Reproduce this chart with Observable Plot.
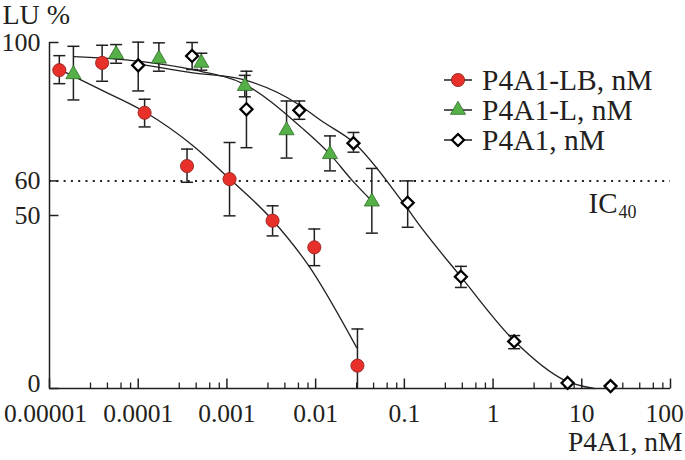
<!DOCTYPE html>
<html><head><meta charset="utf-8">
<script src="https://cdn.jsdelivr.net/npm/d3@7"></script>
<script src="https://cdn.jsdelivr.net/npm/@observablehq/plot@0.6"></script>
<style>
html,body{margin:0;padding:0;background:#fff;}
#wrap{position:relative;width:685px;height:460px;overflow:hidden;font-family:"Liberation Serif","Times New Roman",Times,"Nimbus Roman",serif;color:#231f20;}
#legend{position:absolute;left:444px;top:65px;font-size:29.5px;line-height:30px;}
.row{display:flex;align-items:center;height:30px;white-space:nowrap;}
.row svg{flex:none;margin-right:10px;}
</style></head><body>
<div id="wrap"><div id="chart"></div><div id="legend"></div></div>
<script>
// ---- series names ----
const seriesNames = ["P4A1-LB, nM", "P4A1-L, nM", "P4A1, nM"];

// ---- P4A1-LB (red circles) ----
const lbX  = [1.29e-5, 3.92e-5, 1.18e-4, 3.55e-4, 1.07e-3, 3.27e-3, 9.66e-3, 2.96e-2];
const lbY  = [92.0, 94.1, 79.7, 64.3, 60.5, 48.5, 40.8, 6.6];
const lbLo = [88.1, 88.8, 75.6, 59.6, 49.9, 44.1, 35.5, 0];
const lbHi = [96.2, 99.2, 83.6, 69.2, 71.1, 52.8, 46.1, 17.2];
const lbCurveX = [1.28e-5, 3.82e-5, 1.14e-4, 4.18e-4, 1.07e-3, 3.18e-3, 8.34e-3, 2.9e-2];
const lbCurveY = [92.3, 86.3, 80.2, 70.1, 60.6, 49.0, 35.5, 11.8];

// ---- P4A1-L (green triangles) ----
const lX  = [1.86e-5, 5.64e-5, 1.71e-4, 5.15e-4, 1.59e-3, 4.7e-3, 1.45e-2, 4.3e-2];
const lY  = [90.8, 96.6, 95.3, 94.1, 87.4, 74.6, 67.7, 54.0];
const lLo = [83.4, 94.0, 91.7, 92.0, 84.3, 66.6, 62.9, 44.9];
const lHi = [98.9, 99.4, 99.9, 96.9, 90.5, 83.1, 73.0, 63.6];
const lCurveX = [1.89e-5, 1.0e-4, 3.97e-4, 1.58e-3, 6.95e-3, 1.44e-2, 2.55e-2, 4.3e-2];
const lCurveY = [95.9, 94.6, 92.2, 87.9, 75.4, 67.8, 60.3, 54.2];

// ---- P4A1 (open diamonds) ----
const pX  = [1.0e-4, 4.05e-4, 1.66e-3, 6.55e-3, 2.67e-2, 0.109, 0.434, 1.73, 6.92, 21.1];
const pY  = [93.4, 96.1, 80.7, 80.4, 70.9, 53.7, 32.3, 13.6, 1.6, 0.7];
const pLo = [86.0, 92.2, 69.6, 77.8, 68.3, 46.6, 29.2, 11.5, null, null];
const pHi = [100.1, 100.0, 91.7, 83.1, 74.0, 60.0, 35.3, 15.3, null, null];
const pCurveX = [1.0e-4, 3.97e-4, 1.46e-3, 6.43e-3, 1.17e-2, 2.69e-2, 9.37e-2, 0.165, 0.424, 1.73, 6.52, 13.8];
const pCurveY = [93.8, 91.3, 89.4, 82.1, 77.3, 71.1, 54.2, 45.6, 32.6, 13.8, 2.3, 0];

// ---- axes ----
const xTicks = [1e-5, 1e-4, 1e-3, 1e-2, 1e-1, 1, 10, 100];
const xTickLabels = ["0.00001", "0.0001", "0.001", "0.01", "0.1", "1", "10", "100"];
const minorSteps = [2.9, 4.5, 6.4, 8.2];
const yTicks = [0, 50, 60, 100];
const icLevel = [60];
const yLabel = "LU %";
const xLabel = "P4A1, nM";

// ---- build tables ----
const pts = (xs, ys, lo, hi) => xs.map((x, i) => ({x, y: ys[i], lo: lo[i], hi: hi[i]}));
const crv = (xs, ys) => xs.map((x, i) => ({x, y: ys[i]}));
const lb = pts(lbX, lbY, lbLo, lbHi), lt = pts(lX, lY, lLo, lHi), pd = pts(pX, pY, pLo, pHi);
const withErr = d => d.lo != null && d.hi != null;
const minorTicks = d3.merge(xTicks.slice(0, -1).map(d => minorSteps.map(m => d * m)));
const fmtX = d => xTickLabels[xTicks.indexOf(d)];

const FONT = '"Liberation Serif","Times New Roman",Times,"Nimbus Roman",serif';
const ink = "#231f20";
const redFill = "#e8302a", redStroke = "#8e1d18";
const greenFill = "#55b047", greenStroke = "#2d6b27";
const R = {circle: 6.6, triangle: 5.6, diamond: 5.4};

const tickRight = {draw(c){ c.moveTo(0, 0); c.lineTo(9, 0); }};
const tickMajor = {draw(c){ c.moveTo(0, 0); c.lineTo(0, -10); }};
const tickMinor = {draw(c){ c.moveTo(0, 0); c.lineTo(0, -6); }};
const capSym = {draw(c){ c.moveTo(-6, 0); c.lineTo(6, 0); }};

const errMarks = (data) => [
  Plot.ruleX(data.filter(withErr), {x: "x", y1: "lo", y2: "hi", stroke: ink, strokeWidth: 1.5}),
  Plot.dot(data.filter(withErr), {x: "x", y: "hi", symbol: capSym, fill: "none", stroke: ink, strokeWidth: 1.5}),
  Plot.dot(data.filter(d => withErr(d) && d.lo > 0), {x: "x", y: "lo", symbol: capSym, fill: "none", stroke: ink, strokeWidth: 1.5})
];

const chart = Plot.plot({
  width: 685, height: 460,
  marginLeft: 49, marginRight: 15, marginTop: 42, marginBottom: 72,
  x: {type: "log", domain: [xTicks[0], xTicks[xTicks.length - 1]]},
  y: {domain: [yTicks[0], yTicks[yTicks.length - 1]]},
  style: {fontFamily: FONT, fontSize: "26px", color: ink, background: "white", overflow: "visible"},
  marks: [
    // axis lines and ticks
    Plot.ruleY([yTicks[0]], {stroke: ink, strokeWidth: 1.5}),
    Plot.ruleX([xTicks[0]], {stroke: ink, strokeWidth: 1.5}),
    Plot.dot(yTicks, {y: d => d, frameAnchor: "left", symbol: tickRight, fill: "none", stroke: ink, strokeWidth: 1.5}),
    Plot.dot(xTicks, {x: d => d, frameAnchor: "bottom", symbol: tickMajor, fill: "none", stroke: ink, strokeWidth: 1.5}),
    Plot.dot(minorTicks, {x: d => d, frameAnchor: "bottom", symbol: tickMinor, fill: "none", stroke: ink, strokeWidth: 1.3}),
    Plot.axisY(yTicks.slice(1), {tickSize: 0, tickPadding: 9, label: null, fontSize: 26}),
    Plot.axisY(yTicks.slice(0, 1), {tickSize: 0, tickPadding: 9, label: null, fontSize: 26, dy: -5}),
    Plot.axisX(xTicks.slice(1, -1), {tickSize: 0, tickPadding: 15, tickFormat: fmtX, label: null, fontSize: 25.5}),
    Plot.axisX(xTicks.slice(0, 1), {tickSize: 0, tickPadding: 15, tickFormat: fmtX, label: null, fontSize: 25.5, dx: -4}),
    Plot.axisX(xTicks.slice(-1), {tickSize: 0, tickPadding: 15, tickFormat: fmtX, label: null, fontSize: 25.5, dx: -6}),
    // IC40 line
    Plot.ruleY(icLevel, {stroke: ink, strokeWidth: 2, strokeDasharray: "2 5.3"}),
    Plot.text(["IC"], {text: d => d, frameAnchor: "right", dx: -82, dy: -3, lineAnchor: "bottom", textAnchor: "start", fontSize: 29, fill: ink}),
    Plot.text(["40"], {text: d => d, frameAnchor: "right", dx: -52, dy: 2, lineAnchor: "bottom", textAnchor: "start", fontSize: 18, fill: ink}),
    // axis titles
    Plot.text([yLabel], {text: d => d, frameAnchor: "top-left", dx: -47, dy: -19, lineAnchor: "bottom", textAnchor: "start", fontSize: 28, fill: ink}),
    Plot.text([xLabel], {text: d => d, frameAnchor: "bottom-right", dx: 12, dy: 62, lineAnchor: "bottom", textAnchor: "end", fontSize: 27.5, fill: ink}),
    // fitted curves
    Plot.line(crv(lbCurveX, lbCurveY), {x: "x", y: "y", stroke: ink, strokeWidth: 1.3, curve: "monotone-x"}),
    Plot.line(crv(lCurveX, lCurveY), {x: "x", y: "y", stroke: ink, strokeWidth: 1.3, curve: "monotone-x"}),
    Plot.line(crv(pCurveX, pCurveY), {x: "x", y: "y", stroke: ink, strokeWidth: 1.3, curve: "monotone-x"}),
    // error bars
    ...errMarks(lb), ...errMarks(lt), ...errMarks(pd),
    // markers
    Plot.dot(lb, {x: "x", y: "y", r: R.circle, symbol: "circle", fill: redFill, stroke: redStroke, strokeWidth: 0.8}),
    Plot.dot(lt, {x: "x", y: "y", r: R.triangle, symbol: "triangle", fill: greenFill, stroke: greenStroke, strokeWidth: 0.8}),
    Plot.dot(pd, {x: "x", y: "y", r: R.diamond, symbol: "diamond2", fill: "white", stroke: "black", strokeWidth: 2.3})
  ]
});
document.getElementById("chart").appendChild(chart);

// ---- legend ----
const legendItems = [
  {name: seriesNames[0], sym: d3.symbolCircle, r: R.circle, fill: redFill, stroke: redStroke, sw: 0.8},
  {name: seriesNames[1], sym: d3.symbolTriangle, r: R.triangle, fill: greenFill, stroke: greenStroke, sw: 0.8},
  {name: seriesNames[2], sym: d3.symbolDiamond2, r: R.diamond, fill: "white", stroke: "black", sw: 2.3}
];
const leg = d3.select("#legend");
legendItems.forEach(it => {
  const row = leg.append("div").attr("class", "row");
  const s = row.append("svg").attr("width", 28).attr("height", 30);
  s.append("line").attr("x1", 0).attr("x2", 28).attr("y1", 15).attr("y2", 15).attr("stroke", ink).attr("stroke-width", 1.5);
  s.append("path").attr("transform", "translate(14,15)")
    .attr("d", d3.symbol(it.sym, Math.PI * it.r * it.r)())
    .attr("fill", it.fill).attr("stroke", it.stroke).attr("stroke-width", it.sw);
  row.append("span").text(it.name);
});
</script>
</body></html>
